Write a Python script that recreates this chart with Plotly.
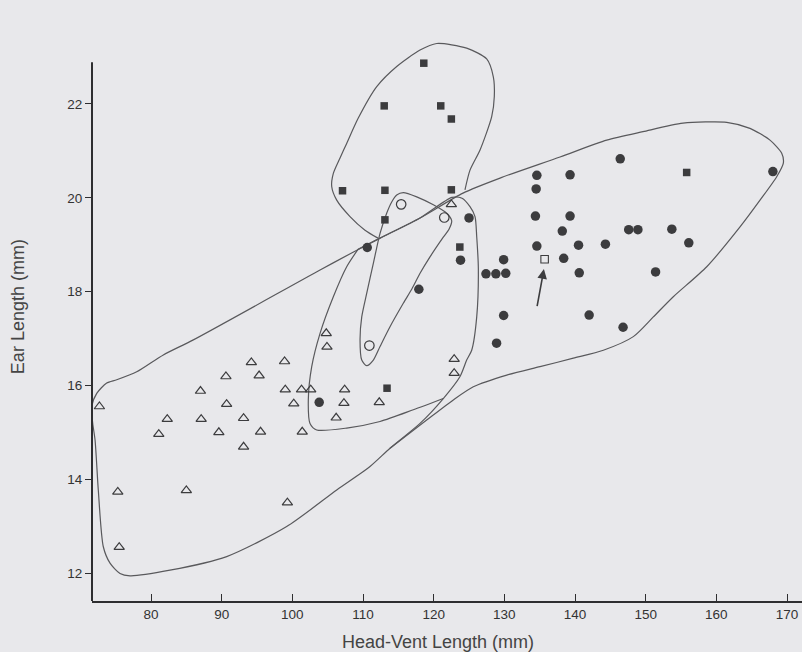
import plotly.graph_objects as go

# ---------------- data ----------------
tri_x = [72.7, 75.3, 75.5, 81.1, 82.3, 85.0, 87.0, 87.1, 89.6, 90.6, 90.7, 93.1, 93.1, 94.2, 95.3, 95.5,
         98.9, 99.0, 99.3, 100.2, 101.3, 101.4, 102.6, 104.8, 104.9, 106.2, 107.4, 107.3, 112.3, 122.5, 122.9, 122.9]
tri_y = [15.55, 13.73, 12.55, 14.96, 15.28, 13.76, 15.88, 15.28, 15.00, 16.19, 15.60, 15.30, 14.69, 16.49, 16.21, 15.01,
         16.51, 15.91, 13.50, 15.61, 15.91, 15.01, 15.91, 17.11, 16.82, 15.31, 15.91, 15.62, 15.64, 19.86, 16.56, 16.26]

sq_x = [118.6, 113.0, 121.0, 122.5, 107.1, 113.1, 122.5, 113.1, 123.7, 113.4, 155.8]
sq_y = [22.87, 21.96, 21.96, 21.68, 20.15, 20.16, 20.17, 19.53, 18.95, 15.94, 20.54]

dot_x = [110.6, 125.0, 123.8, 127.4, 128.8, 130.2, 129.9, 117.9, 129.9, 128.9, 103.8, 146.4, 134.6, 139.3, 168.0,
         134.5, 134.4, 139.3, 138.2, 147.6, 148.9, 153.7, 134.6, 140.5, 144.3, 156.1, 138.4, 140.6, 151.4, 142.0, 146.8]
dot_y = [18.94, 19.57, 18.67, 18.38, 18.38, 18.39, 18.68, 18.05, 17.49, 16.90, 15.64, 20.83, 20.48, 20.49, 20.56,
         20.19, 19.61, 19.61, 19.29, 19.32, 19.32, 19.33, 18.97, 18.99, 19.01, 19.04, 18.71, 18.40, 18.42, 17.50, 17.24]

ocirc_x = [115.4, 121.5, 110.9]
ocirc_y = [19.86, 19.58, 16.85]

osq_x = [135.7]
osq_y = [18.69]

arrow_tail = (134.6, 17.66)
arrow_head = (135.6, 18.48)

xticks = [80, 90, 100, 110, 120, 130, 140, 150, 160, 170]
yticks = [12, 14, 16, 18, 20, 22]

# enclosure outlines (data units)
env_tri_x = [73.73, 75.15, 77.98, 81.74, 85.99, 103.92, 108.59, 112.41, 118.07, 122.60, 124.01, 125.14, 125.85,
             126.09, 126.32, 126.09, 125.38, 124.67, 123.73, 121.36, 118.07, 113.82, 110.99, 106.28, 99.20, 90.71,
             82.69, 77.03, 75.61, 74.20, 73.25, 72.54, 72.08, 71.75, 71.61, 72.32, 73.73]
env_tri_y = [16.05, 16.12, 16.29, 16.65, 16.97, 18.46, 18.84, 19.14, 19.57, 20.01, 19.99, 19.81, 19.60,
             19.17, 18.50, 17.46, 16.75, 16.54, 16.19, 15.72, 15.19, 14.66, 14.27, 13.77, 12.99, 12.35,
             12.06, 11.94, 11.99, 12.21, 12.56, 13.77, 14.84, 15.19, 15.55, 15.83, 16.05]

env_dot_x = [109.29, 112.41, 118.07, 124.15, 129.39, 137.88, 144.49, 149.62, 155.28, 161.47, 164.76, 167.59,
             169.25, 169.48, 168.54, 166.18, 163.35, 158.64, 153.91, 151.08, 148.25, 144.01, 139.76, 135.05,
             130.34, 125.61, 122.78, 119.01, 113.82]
env_dot_y = [18.90, 19.14, 19.57, 20.10, 20.42, 20.87, 21.23, 21.41, 21.59, 21.61, 21.48, 21.23,
             20.95, 20.74, 20.45, 19.95, 19.38, 18.53, 17.89, 17.46, 17.04, 16.75, 16.58, 16.40,
             16.22, 15.97, 15.69, 15.26, 14.66]

env_mid_x = [109.29, 107.69, 105.80, 103.92, 102.74, 102.26, 102.50, 103.45, 107.69, 112.41, 117.12, 121.36]
env_mid_y = [18.90, 18.53, 17.89, 17.11, 16.40, 15.69, 15.19, 15.05, 15.09, 15.23, 15.48, 15.72]

env_sq_x = [112.12, 110.28, 108.16, 106.28, 105.57, 105.80, 106.75, 107.69, 109.33, 111.94, 114.77, 118.07,
            120.43, 124.67, 127.50, 128.44, 128.58, 128.21, 126.56, 125.14, 124.43]
env_sq_y = [19.14, 19.31, 19.60, 19.95, 20.24, 20.52, 20.85, 21.16, 21.70, 22.37, 22.80, 23.15,
            23.29, 23.19, 22.96, 22.58, 22.16, 21.73, 21.02, 20.59, 20.17]

env_oc_x = [114.77, 115.70, 117.60, 119.95, 121.84, 122.55, 122.17, 121.36, 119.48, 118.07, 116.93, 115.70,
            113.82, 112.41, 111.46, 110.52, 109.82, 109.58, 109.82, 110.52, 111.46, 112.41, 113.35, 114.06, 114.77]
env_oc_y = [20.06, 20.11, 20.02, 19.85, 19.67, 19.51, 19.33, 19.16, 18.74, 18.39, 18.06, 17.75,
            17.25, 16.83, 16.54, 16.42, 16.54, 16.97, 17.46, 17.96, 18.60, 19.24, 19.67, 19.91, 20.06]

# ---------------- style ----------------
BG = "#e8e8eb"
INK = "#3c3c3e"
LINE = "#59595c"
FONT = "Liberation Sans Narrow, Liberation Sans, Arial, sans-serif"

fig = go.Figure()

line_style = dict(color=LINE, width=1.2, shape="spline", smoothing=0.7)
for ex, ey in [(env_tri_x, env_tri_y), (env_dot_x, env_dot_y), (env_mid_x, env_mid_y),
               (env_sq_x, env_sq_y), (env_oc_x, env_oc_y)]:
    fig.add_trace(go.Scatter(x=ex, y=ey, mode="lines", line=line_style, hoverinfo="skip", showlegend=False))

fig.add_trace(go.Scatter(x=tri_x, y=tri_y, mode="markers", showlegend=False, cliponaxis=False,
                         marker=dict(symbol="triangle-up-open", size=9, color=INK, line=dict(width=1.2, color=INK))))
fig.add_trace(go.Scatter(x=sq_x, y=sq_y, mode="markers", showlegend=False, cliponaxis=False,
                         marker=dict(symbol="square", size=7.5, color=INK, line=dict(width=0))))
fig.add_trace(go.Scatter(x=dot_x, y=dot_y, mode="markers", showlegend=False, cliponaxis=False,
                         marker=dict(symbol="circle", size=9.5, color=INK, line=dict(width=0))))
fig.add_trace(go.Scatter(x=ocirc_x, y=ocirc_y, mode="markers", showlegend=False, cliponaxis=False,
                         marker=dict(symbol="circle-open", size=9.5, color=INK, line=dict(width=1.2, color=INK))))
fig.add_trace(go.Scatter(x=osq_x, y=osq_y, mode="markers", showlegend=False, cliponaxis=False,
                         marker=dict(symbol="square-open", size=7.5, color=INK, line=dict(width=1.1, color=INK))))

fig.add_annotation(x=arrow_head[0], y=arrow_head[1], ax=arrow_tail[0], ay=arrow_tail[1],
                   xref="x", yref="y", axref="x", ayref="y", text="", showarrow=True,
                   arrowhead=2, arrowsize=1.2, arrowwidth=1.6, arrowcolor=INK)

# axis titles
fig.add_annotation(text="Head-Vent Length (mm)", xref="paper", yref="paper", x=0.4873, y=-0.0728,
                   xanchor="center", yanchor="middle", showarrow=False,
                   font=dict(family=FONT, size=18, color="#444"))
fig.add_annotation(text="Ear Length (mm)", xref="paper", yref="paper", x=-0.1042, y=0.522,
                   xanchor="center", yanchor="middle", showarrow=False, textangle=-90,
                   font=dict(family=FONT, size=18, color="#444"))

# y axis line (drawn only up to the top of the frame as in the reference)
fig.add_shape(type="line", xref="x domain", yref="y domain", x0=0, x1=0, y0=0, y1=0.957,
              line=dict(color="#2e2e30", width=2))

fig.update_layout(
    width=802, height=652,
    margin=dict(l=92, r=0, t=38, b=51, pad=0),
    paper_bgcolor=BG, plot_bgcolor=BG,
    font=dict(family=FONT, size=13.5, color="#333"),
    xaxis=dict(range=[71.65, 172.12], tickvals=xticks, ticktext=[str(v) for v in xticks],
               showline=True, linecolor="#2e2e30", linewidth=2, ticks="inside", ticklen=7,
               tickwidth=1.4, tickcolor="#2e2e30", showgrid=False, zeroline=False,
               tickfont=dict(family=FONT, size=13.5, color="#333")),
    yaxis=dict(range=[11.403, 23.407], tickvals=yticks, ticktext=[str(v) for v in yticks],
               showline=False, ticks="outside", ticklen=6, tickwidth=1.4, tickcolor="#2e2e30",
               showgrid=False, zeroline=False,
               tickfont=dict(family=FONT, size=13.5, color="#333")),
)

fig.write_html("out.html")
